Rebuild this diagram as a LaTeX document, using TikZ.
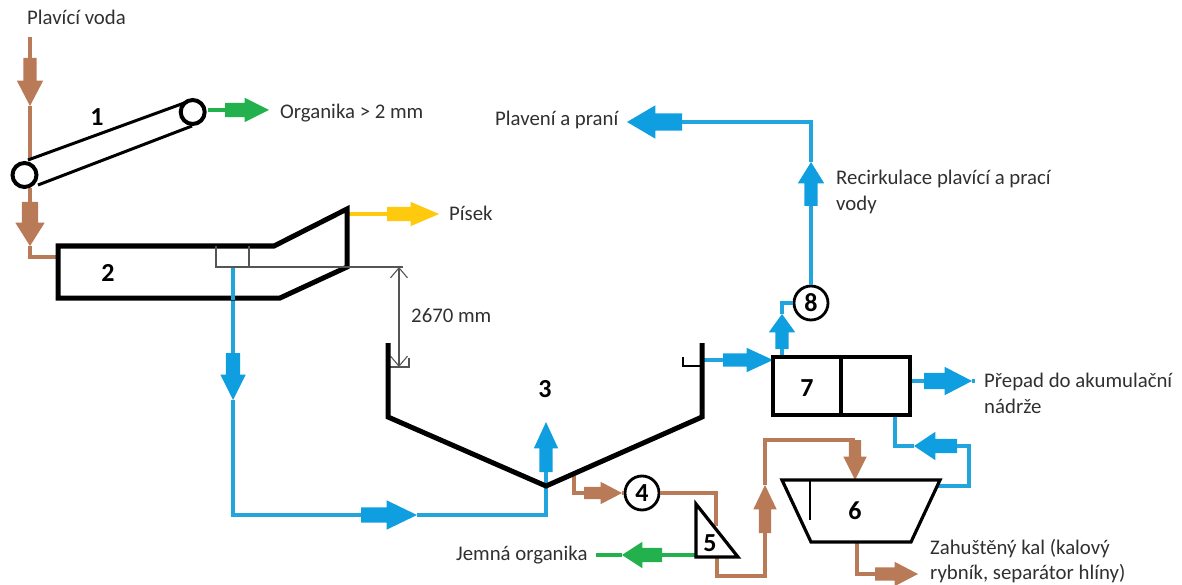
\documentclass[tikz,border=0pt]{standalone}
\usepackage{fontspec}
\setmainfont{Carlito}
\usetikzlibrary{shapes.arrows,arrows.meta}
\definecolor{cbrown}{HTML}{B97A57}
\definecolor{cblue}{HTML}{0F9FE0}
\definecolor{clineblue}{HTML}{22A4DC}
\definecolor{cgreen}{HTML}{22B14C}
\definecolor{cyellow}{HTML}{FFC90E}
\definecolor{ctext}{HTML}{303030}
\definecolor{cdim}{HTML}{555555}
\newcommand\fatarrow[9]{%
  \pgfmathsetmacro\fatang{2*atan(#8/2/#7)}%
  \pgfmathsetmacro\fatext{(#8-#9)/2}%
  \pgfmathsetmacro\fatsep{#9/2}%
  \node[shape=single arrow,draw=none,fill=#2,inner xsep=0pt,inner ysep=\fatsep pt,outer sep=0pt,
    single arrow tip angle=\fatang,single arrow head extend=\fatext pt,
    minimum height=#6pt,minimum width=#8pt,rotate=#5,anchor=tail] (#1) at (#3,#4) {};}
\tikzset{
  x=1pt,y=-1pt,
  wall/.style={draw=black,line width=5pt,line join=miter},
  frame/.style={draw=black,line width=3.2pt,line join=miter,fill=white},
  dimline/.style={draw=cdim,line width=1.1pt},
  pipebrown/.style={draw=cbrown,line width=3.2pt},
  pipeblue/.style={draw=clineblue,line width=3.4pt},
  pipegreen/.style={draw=cgreen,line width=3.2pt},
  pipeyellow/.style={draw=cyellow,line width=3.2pt},
  lbl/.style={anchor=base west,inner sep=0pt,text=ctext,font=\fontsize{20.8}{24}\selectfont},
  num/.style={inner sep=0pt,text=black,font=\fontsize{26}{28}\selectfont\bfseries},
  ring/.style={circle,draw=black,line width=2.8pt,fill=white,minimum size=34pt,inner sep=0pt,
    font=\fontsize{26}{28}\selectfont\bfseries},
  roller/.style={circle,draw=black,line width=4pt,fill=white,minimum size=24pt,inner sep=0pt},
}
\begin{document}
\begin{tikzpicture}
\useasboundingbox (0,0) rectangle (1182,585);
% named free ends
\coordinate (feed) at (30,37);
\coordinate (box2in) at (58,257);
\coordinate (weirL) at (216,267);
\coordinate (weirR) at (249,267);
\coordinate (dimEnd) at (403,267);
\coordinate (dimA) at (399,267);
\coordinate (dimB) at (399,367);
\coordinate (tankTip) at (546,486);
% big arrows: name,colour,x,y,rot,length,head length,head width,shaft width
\fatarrow{a1}{cbrown}{30}{58}{270}{48}{25}{26}{13}
\fatarrow{a2}{cbrown}{30}{202}{270}{44}{23}{29}{16}
\fatarrow{a3}{cgreen}{225}{110}{0}{44}{24}{24}{14}
\fatarrow{a4}{cyellow}{387}{214}{0}{52}{28}{24}{14}
\fatarrow{a5}{cblue}{233}{353}{270}{47}{25}{25}{14}
\fatarrow{a6}{cblue}{361}{515}{0}{56}{30}{29}{15}
\fatarrow{a7}{cblue}{546}{472}{90}{50}{26}{24}{13}
\fatarrow{a8}{cbrown}{584}{493}{0}{38}{21}{22}{12}
\fatarrow{a9}{cgreen}{662}{555}{180}{40}{20}{26}{14}
\fatarrow{a10}{cbrown}{765}{533}{90}{48}{24}{23}{12}
\fatarrow{a11}{cbrown}{855}{440}{270}{40}{23}{23}{12}
\fatarrow{a12}{cblue}{723}{360}{0}{50}{26}{24}{13}
\fatarrow{a13}{cblue}{782}{349}{90}{35}{18}{26}{13}
\fatarrow{a14}{cblue}{811}{206}{90}{44}{21}{26}{13}
\fatarrow{a15}{cblue}{682}{122}{180}{55}{28}{33}{17}
\fatarrow{a16}{cblue}{924}{381}{0}{48}{27}{28}{16}
\fatarrow{a17}{cblue}{957}{446}{180}{43}{21}{28}{14}
\fatarrow{a18}{cbrown}{875}{574}{0}{43}{23}{24}{13}
% conveyor
\node[roller] (r1) at (24.5,175) {};
\node[roller] (r2) at (192.7,112) {};
% process units
\node[ring] (n4) at (642,493) {4};
\node[ring] (n8) at (811,303) {8};
\coordinate (b7a) at (773,357);
\coordinate (b7b) at (910,415);
% pipes
\draw[pipebrown] (feed) -- (a1.tail);
\draw[pipebrown] (a1.tip) -- (30,160);
\draw[pipebrown] (30,188) -- (a2.tail);
\draw[pipebrown] (a2.tip) |- (box2in);
\draw[pipegreen] (r2.east) ++(1,-2) -- (a3.tail);
\draw[pipeyellow] (349,214) -- (a4.tail);
\draw[pipeblue] (233,267) -- (a5.tail);
\draw[pipeblue] (a5.tip) |- (a6.tail);
\draw[pipeblue] (a6.tip) -| (a7.tail);
\draw[pipebrown] (574,476) |- (a8.tail);
\draw[pipebrown] (a8.tip) -- (n4.west);
\draw[pipebrown] (n4.east) -| (716,526);
\draw[pipegreen] (a9.tail) -- (696,555);
\draw[pipegreen] (a9.tip) -- (596,555);
\draw[pipebrown] (717,557) |- (765,576) -- (a10.tail);
\draw[pipebrown] (a10.tip) |- (a11.tail);
\draw[pipeblue] (703,360) -- (a12.tail);
\draw[pipeblue] (782,357) -- (a13.tail);
\draw[pipeblue] (a13.tip) |- (n8.west);
\draw[pipeblue] (n8.north) -- (a14.tail);
\draw[pipeblue] (a14.tip) |- (a15.tail);
\draw[pipeblue] (910,381) -- (a16.tail);
\draw[pipeblue] (a16.tip) -- (975,381);
\draw[pipeblue] (895,415) |- (a17.tip);
\draw[pipeblue] (a17.tail) -- (969,446) |- (938,486);
\draw[pipebrown] (857,542) |- (a18.tail);
% belts
\draw[black,line width=3pt] (28,160) -- (187,102);
\draw[black,line width=3pt] (38,185) -- (192,126);
% box 2
\draw[wall] (58,246) -- (274,246) -- (347,209) -- (347,267) -- (280,298) -- (58,298) -- cycle;
\draw[pipeblue] (233,267) -- (233,300);
\draw[dimline] (216,246) -- (weirL) -- (dimEnd);
\draw[dimline] (weirR) -- (249,246);
% dimension
\draw[dimline,{Straight Barb[length=10pt,width=17pt]}-{Straight Barb[length=10pt,width=17pt]}] (dimA) -- (dimB);
\draw[dimline] (388,367) -- (409,367) -- (409,358);
% tank 3
\draw[wall] (388,343) -- (388,417) -- (tankTip) -- (702,417) -- (702,343);
\draw[dimline,draw=black] (683,357) -- (683,366) -- (702,366);
% box 7
\draw[frame] (b7a) rectangle (b7b);
\draw[frame] (841,357) -- (841,415);
% thickener 6
\draw[frame] (782,480) -- (940,480) -- (911,542) -- (811,542) -- cycle;
\draw[draw=black,line width=1.1pt] (810,480) -- (810,520);
% screen 5
\draw[frame] (696,504) -- (696,557) -- (738,557) -- cycle;
% numbers
\node[num] (l1) at (97,117) {1};
\node[num] (l2) at (108,273) {2};
\node[num] (l3) at (545,389) {3};
\node[num] (l5) at (710,543) {5};
\node[num] (l6) at (855,511) {6};
\node[num] (l7) at (807,388) {7};
% labels
\node[lbl] (t1) at (27,25) {Plavící voda};
\node[lbl] (t2) at (280,119) {Organika > 2 mm};
\node[lbl] (t3) at (449,221) {Písek};
\node[lbl] (t4) at (411,322) {2670 mm};
\node[lbl] (t5) at (456,560) {Jemná organika};
\node[lbl] (t6) at (495,126) {Plavení a praní};
\node[lbl] (t7) at (836,185) {Recirkulace plavící a prací};
\node[lbl] (t8) at (836,211) {vody};
\node[lbl] (t9) at (984,387) {Přepad do akumulační};
\node[lbl] (t10) at (984,413) {nádrže};
\node[lbl] (t11) at (930,554) {Zahuštěný kal (kalový};
\node[lbl] (t12) at (930,579) {rybník, separátor hlíny)};
\end{tikzpicture}
\end{document}
